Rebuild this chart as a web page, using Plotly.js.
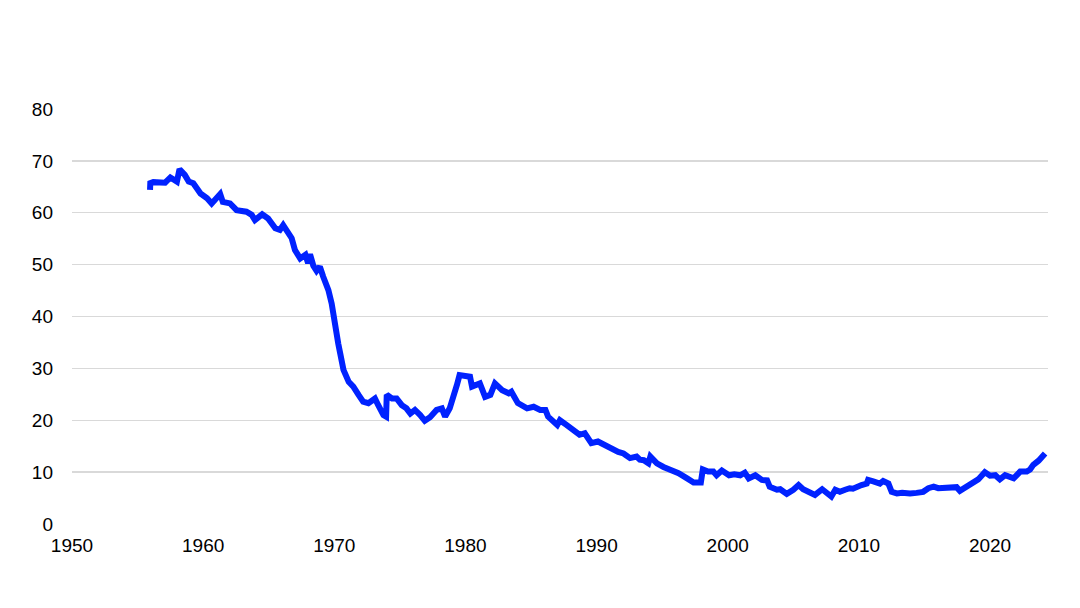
<!DOCTYPE html>
<html>
<head>
<meta charset="utf-8">
<script src="https://cdn.plot.ly/plotly-3.0.1.min.js"></script>
<style>html,body{margin:0;padding:0;background:#fff;}#chart{width:1080px;height:608px;}</style>
</head>
<body>
<div id="chart"></div>
<script>
const years = [
1955.95,1955.97,1956.2,1956.7,1957.1,1957.5,1957.85,1958.0,1958.2,1958.6,1958.9,1959.25,1959.8,1960.3,1960.65,1961.0,1961.3,1961.5,1962.05,1962.55,1963.3,1963.7,1963.95,1964.5,1964.95,1965.5,1965.85,1966.1,1966.4,1966.75,1967.0,1967.4,1967.8,1968.0,1968.15,1968.4,1968.65,1968.9,1969.15,1969.55,1969.8,1970.05,1970.3,1970.45,1970.7,1971.1,1971.45,1971.85,1972.2,1972.6,1973.1,1973.35,1973.75,1973.95,1974.0,1974.4,1974.75,1975.15,1975.5,1975.8,1976.15,1976.55,1976.9,1977.3,1977.8,1978.2,1978.45,1978.8,1979.1,1979.35,1979.55,1979.85,1980.35,1980.5,1981.1,1981.5,1981.9,1982.25,1982.8,1983.3,1983.5,1984.0,1984.7,1985.2,1985.7,1986.1,1986.3,1987.0,1987.2,1987.7,1988.2,1988.7,1989.1,1989.6,1990.1,1990.4,1990.65,1990.9,1991.15,1991.4,1991.65,1992.05,1992.3,1992.55,1993.05,1993.3,1993.6,1993.95,1994.1,1994.6,1995.1,1995.35,1995.6,1996.25,1996.9,1997.4,1997.95,1998.1,1998.5,1998.9,1999.15,1999.55,2000.1,2000.5,2000.95,2001.3,2001.6,2002.1,2002.6,2003.0,2003.2,2003.75,2004.0,2004.5,2005.0,2005.4,2005.75,2006.3,2006.65,2007.2,2007.55,2007.9,2008.2,2008.55,2008.95,2009.3,2009.55,2009.8,2010.2,2010.6,2010.7,2011.1,2011.6,2011.85,2012.25,2012.5,2012.9,2013.3,2013.6,2013.9,2014.4,2014.9,2015.3,2015.7,2016.05,2016.6,2017.1,2017.45,2017.7,2018.25,2018.6,2018.85,2019.1,2019.6,2020.0,2020.4,2020.75,2021.15,2021.5,2021.8,2022.3,2022.8,2023.05,2023.3,2023.7,2023.95,2024.2
];
const rates = [
64.4,65.7,65.9,66.0,65.8,66.8,66.4,66.0,68.4,67.3,66.0,65.7,63.7,62.8,61.8,62.8,63.6,62.1,61.8,60.5,60.2,59.6,58.6,59.7,58.9,57.0,56.7,57.6,56.4,55.1,52.8,51.2,51.9,50.3,52.0,49.8,48.8,49.6,47.7,45.1,42.5,38.0,34.8,32.9,29.7,27.4,26.5,24.9,23.6,23.3,24.2,22.9,21.0,20.7,24.9,24.2,24.2,22.9,22.3,21.3,22.0,21.0,19.9,20.6,22.0,22.3,20.7,22.3,25.4,26.8,28.7,28.5,28.4,26.5,27.1,24.5,24.9,27.1,25.8,25.2,25.5,23.3,22.3,22.6,22.0,22.0,20.7,19.1,20.0,19.1,18.1,17.2,17.5,15.6,15.9,15.5,15.2,14.8,14.6,14.3,13.9,13.6,13.1,12.7,13.0,12.4,12.3,11.7,13.0,11.7,11.0,10.8,10.4,9.8,8.8,8.0,8.0,10.5,10.1,10.1,9.4,10.3,9.4,9.6,9.4,9.9,8.8,9.4,8.5,8.4,7.2,6.6,6.7,5.8,6.6,7.5,6.7,6.2,5.6,6.7,6.0,5.3,6.6,6.2,6.6,6.9,6.8,7.2,7.5,7.8,8.5,8.2,7.8,8.3,7.8,6.2,5.9,6.0,5.8,5.9,6.0,6.2,6.9,7.2,6.9,7.0,7.0,7.1,6.4,7.2,7.8,8.0,8.6,10.0,9.3,9.4,8.6,9.4,9.1,8.8,10.1,10.1,10.5,11.4,12.2,13.0,13.6
];
const yTicks = [0,10,20,30,40,50,60,70,80];
const xTicks = [1950,1960,1970,1980,1990,2000,2010,2020];

const tickFont = {family: 'Liberation Sans, Arial, sans-serif', size: 19, color: '#000000'};
const trace = {
  x: years, y: rates, type: 'scatter', mode: 'lines',
  line: {color: '#0022ff', width: 6, shape: 'linear'},
  hoverinfo: 'skip'
};
const layout = {
  width: 1080, height: 608,
  margin: {l: 72, r: 32, t: 109, b: 84},
  paper_bgcolor: '#ffffff', plot_bgcolor: '#ffffff',
  showlegend: false,
  font: tickFont,
  xaxis: {
    range: [1950, 2024.42], tickvals: xTicks, ticktext: xTicks.map(String),
    tickfont: tickFont,
    showgrid: false, zeroline: false, showline: false, ticks: '',
    ticklabelstandoff: 8, fixedrange: true
  },
  yaxis: {
    range: [0, 80], tickvals: yTicks, ticktext: yTicks.map(String),
    tickfont: tickFont,
    showgrid: true, gridcolor: '#d9d9d9', gridwidth: 1.3,
    zeroline: false, showline: false, ticks: '',
    ticklabelstandoff: 18, fixedrange: true
  }
};
Plotly.newPlot('chart', [trace], layout, {displayModeBar: false, staticPlot: true});
</script>
</body>
</html>
